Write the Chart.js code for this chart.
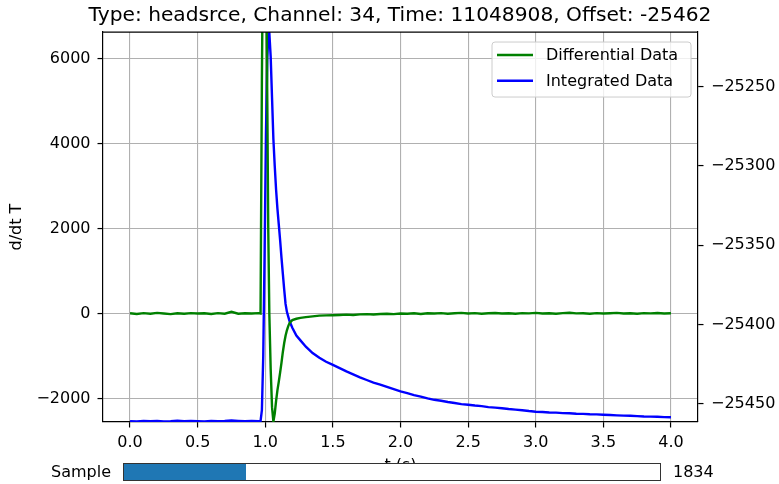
<!DOCTYPE html>
<html>
<head>
<meta charset="utf-8">
<script src="https://cdn.jsdelivr.net/npm/chart.js@4/dist/chart.umd.min.js"></script>
<style>
  body { margin: 0; background: #fff; font-family: "DejaVu Sans", sans-serif; }
  #wrap { position: relative; width: 779px; height: 484px; overflow: hidden; }
  #chart { position: absolute; left: 0; top: 0; }
  .sl-text { position: absolute; top: 463px; height: 18px; line-height: 18px; font-size: 16px; color: #000; }
  #sliderLabel { left: 0; width: 111px; text-align: right; }
  #sliderBox { position: absolute; left: 123px; top: 463px; width: 538px; height: 18px; box-sizing: border-box; border: 1px solid #333; background: #fff; }
  #sliderFill { position: absolute; left: 0; top: 0; bottom: 0; width: 122px; background: #1f77b4; }
  #sliderValue { left: 673px; }
</style>
</head>
<body>
<div id="wrap">
  <canvas id="chart" width="779" height="484"></canvas>
  <div id="sliderLabel" class="sl-text">Sample</div>
  <div id="sliderBox"><div id="sliderFill"></div></div>
  <div id="sliderValue" class="sl-text">1834</div>
</div>
<script>
// time (s)
const t = [
  0.00, 0.05, 0.10, 0.15, 0.20, 0.25, 0.30, 0.35, 0.40, 0.45,
  0.50, 0.55, 0.60, 0.65, 0.70, 0.75, 0.80, 0.85, 0.90, 0.95, 0.965,
  0.975, 0.985, 0.995, 1.005, 1.015, 1.022, 1.03, 1.04, 1.05, 1.06,
  1.07, 1.08, 1.09, 1.10, 1.11, 1.12, 1.13, 1.14, 1.15, 1.16,
  1.17, 1.18, 1.20, 1.23, 1.26, 1.30, 1.35, 1.40, 1.45,
  1.50, 1.55, 1.60, 1.65, 1.70, 1.75, 1.80, 1.85, 1.90, 1.95, 2.00,
  2.05, 2.10, 2.15, 2.20, 2.25, 2.30, 2.35, 2.40, 2.45, 2.50,
  2.55, 2.60, 2.65, 2.70, 2.75, 2.80, 2.85, 2.90, 2.95, 3.00,
  3.05, 3.10, 3.15, 3.20, 3.25, 3.30, 3.35, 3.40, 3.45, 3.50,
  3.55, 3.60, 3.65, 3.70, 3.75, 3.80, 3.85, 3.90, 3.95, 4.00
];

// differential data (left axis)
const diffData = [
  10, -5, 15, 0, 20, 5, -10, 10, 0, 15,
  5, 10, -5, 15, 0, 45, 0, 10, 5, 15, 5,
  5500, 9500, 10500, 9000, 5000, 2000, 0, -1300, -2200, -2540,
  -2350, -2050, -1800, -1600, -1380, -1150, -900, -690, -520, -390,
  -290, -215, -150, -118, -98, -80, -62, -45, -38,
  -35, -30, -22, -28, -15, -10, -18, -5, 0, -8, 5,
  0, 10, -5, 12, 5, 15, 0, 10, 20, 5,
  15, 0, 10, 18, 5, 12, 0, 15, 8, 20,
  5, 12, 0, 15, 22, 8, 10, 0, 15, 5,
  12, 20, 5, 10, 0, 15, 8, 18, 5, 10
];

// integrated data (right axis)
const intData = [
  -25461, -25461.2, -25460.8, -25461, -25460.9, -25461.1, -25461, -25460.7, -25461, -25460.9,
  -25461, -25461.1, -25460.8, -25461, -25460.9, -25460.6, -25460.8, -25461, -25460.9, -25461, -25461,
  -25454, -25420, -25355, -25280, -25232, -25219, -25216, -25231, -25257, -25283,
  -25300, -25315, -25327, -25337, -25347, -25358, -25368, -25378, -25387, -25392,
  -25395, -25398, -25402, -25407, -25410, -25414, -25418, -25421, -25423.5,
  -25425.5, -25427.5, -25429.6, -25431.4, -25433.3, -25435, -25436.6, -25437.9, -25439.4, -25440.8, -25442.2,
  -25443.3, -25444.5, -25445.5, -25446.6, -25447.5, -25448.1, -25448.9, -25449.5, -25450.2, -25450.6,
  -25451.1, -25451.5, -25452.1, -25452.4, -25452.8, -25453.3, -25453.7, -25454.1, -25454.6, -25455,
  -25455.2, -25455.5, -25455.6, -25455.9, -25456, -25456.3, -25456.4, -25456.6, -25456.7, -25456.9,
  -25457.1, -25457.3, -25457.5, -25457.6, -25457.8, -25458, -25458.1, -25458.2, -25458.4, -25458.5
];

// tick labels
const xTicks = [0, 0.5, 1, 1.5, 2, 2.5, 3, 3.5, 4];
const leftTicks = [-2000, 0, 2000, 4000, 6000];
const rightTicks = [-25450, -25400, -25350, -25300, -25250];

const xLimits = [-0.2, 4.2];
const leftLimits = [-2550, 6635];
const rightLimits = [-25461.5, -25215.5];

// matplotlib style minus sign
const fmtNum = (v) => (v < 0 ? "\u2212" + Math.abs(v) : String(v));
const useTicks = (arr) => (scale) => { scale.ticks = arr.map((value) => ({ value })); };

Chart.defaults.font.family = "'DejaVu Sans', sans-serif";
Chart.defaults.color = "#000";

const tickFont = { size: 16 };
const gridStyle = { color: "#b0b0b0", lineWidth: 1.1, tickColor: "#000", tickLength: 5.5, tickWidth: 1.2 };
const borderStyle = { color: "#000", width: 1.2 };

// top spine + legend box drawn inside the plot
const framePlugin = {
  id: "frame",
  afterDatasetsDraw(chart) {
    const { ctx, chartArea } = chart;
    ctx.save();
    ctx.strokeStyle = "#000";
    ctx.lineWidth = 1.2;
    ctx.beginPath();
    ctx.moveTo(chartArea.left, chartArea.top);
    ctx.lineTo(chartArea.right, chartArea.top);
    ctx.stroke();

    const w = 199, h = 55;
    const x = chartArea.right - 7 - w, y = chartArea.top + 10;
    ctx.beginPath();
    ctx.roundRect(x, y, w, h, 3);
    ctx.fillStyle = "rgba(255,255,255,0.8)";
    ctx.fill();
    ctx.strokeStyle = "#cccccc";
    ctx.lineWidth = 1;
    ctx.stroke();
    ctx.font = "16px 'DejaVu Sans'";
    ctx.textBaseline = "middle";
    chart.data.datasets.forEach((ds, i) => {
      const ly = y + 13 + i * 25.7;
      ctx.strokeStyle = ds.borderColor;
      ctx.lineWidth = 2.4;
      ctx.beginPath();
      ctx.moveTo(x + 5, ly);
      ctx.lineTo(x + 41, ly);
      ctx.stroke();
      ctx.fillStyle = "#000";
      ctx.fillText(ds.label, x + 54, ly + 1);
    });
    ctx.restore();
  }
};

new Chart(document.getElementById("chart"), {
  type: "line",
  data: {
    datasets: [
      {
        label: "Differential Data",
        data: t.map((x, i) => ({ x, y: diffData[i] })),
        yAxisID: "y",
        borderColor: "#008000",
        borderWidth: 2.4,
        pointRadius: 0,
        tension: 0,
      },
      {
        label: "Integrated Data",
        data: t.map((x, i) => ({ x, y: intData[i] })),
        yAxisID: "y2",
        borderColor: "#0000ff",
        borderWidth: 2.4,
        pointRadius: 0,
        tension: 0,
      },
    ],
  },
  options: {
    responsive: false,
    animation: false,
    events: [],
    // negative right padding so the title centres over the plot, like matplotlib
    layout: { padding: { left: 0, right: -21, top: 0, bottom: 0 } },
    plugins: {
      legend: { display: false },
      tooltip: { enabled: false },
      title: {
        display: true,
        text: "Type: headsrce, Channel: 34, Time: 11048908, Offset: -25462",
        color: "#000",
        font: { size: 20.2, weight: "normal" },
        padding: { top: 4, bottom: 3.8 },
      },
    },
    scales: {
      x: {
        type: "linear",
        min: xLimits[0],
        max: xLimits[1],
        afterFit: (s) => { s.height = 62; },
        afterBuildTicks: useTicks(xTicks),
        ticks: { autoSkip: false, maxRotation: 0, padding: 6, font: tickFont, callback: (v) => v.toFixed(1) },
        grid: gridStyle,
        border: borderStyle,
        title: { display: true, text: "t (s)", font: { size: 16 }, padding: { top: 0, bottom: 8.4 } },
      },
      y: {
        position: "left",
        min: leftLimits[0],
        max: leftLimits[1],
        afterFit: (s) => { s.width = 103; },
        afterBuildTicks: useTicks(leftTicks),
        ticks: { autoSkip: false, padding: 7, font: tickFont, callback: fmtNum },
        grid: gridStyle,
        border: borderStyle,
        title: { display: true, text: "d/dt T", font: { size: 16 }, padding: { top: 7.4, bottom: 0 } },
      },
      y2: {
        position: "right",
        min: rightLimits[0],
        max: rightLimits[1],
        afterFit: (s) => { s.width = 102; },
        afterBuildTicks: useTicks(rightTicks),
        ticks: { autoSkip: false, padding: 7.5, font: tickFont, callback: fmtNum },
        grid: { ...gridStyle, drawOnChartArea: false },
        border: borderStyle,
      },
    },
  },
  plugins: [framePlugin],
});
</script>
</body>
</html>
